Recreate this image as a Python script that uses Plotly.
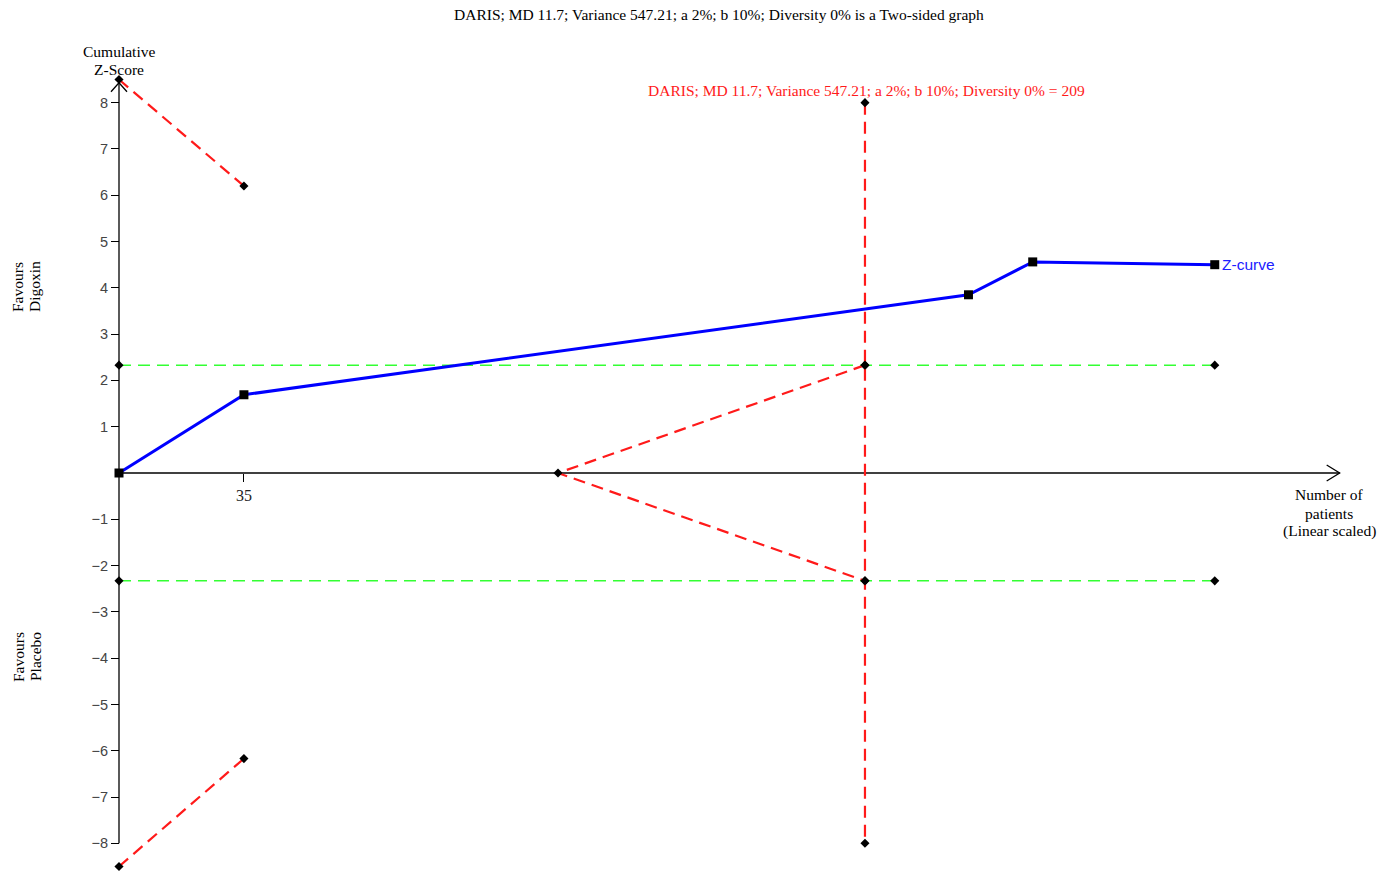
import plotly.graph_objects as go

# ---------------- data ----------------
ris = 209
z_patients = [0, 35, 238, 256, 307]
z_scores = [0.0, 1.69, 3.85, 4.56, 4.50]

upper_b_patients = [0, 35]
upper_b_values = [8.5, 6.2]
lower_b_patients = [0, 35]
lower_b_values = [-8.5, -6.17]

conv_level = 2.33
conv_patients = [0, ris, 307]

futility_start = 123
ris_z_top = 8
ris_z_bottom = -8

y_ticks = [-8, -7, -6, -5, -4, -3, -2, -1, 1, 2, 3, 4, 5, 6, 7, 8]
x_ticks = [35]

title_text = "DARIS; MD 11.7; Variance 547.21; a 2%; b 10%; Diversity 0% is a Two-sided graph"
ris_text = "DARIS; MD 11.7; Variance 547.21; a 2%; b 10%; Diversity 0% = 209"
y_title_lines = ["Cumulative", "Z-Score"]
x_title_lines = ["Number of", "patients", "(Linear scaled)"]
upper_side_lines = ["Favours", "Digoxin"]
lower_side_lines = ["Favours", "Placebo"]

# ---------------- layout constants ----------------
W, H = 1390, 871
x_range = [-33.34, 356.1]
y_range = [-8.598, 10.218]
x_axis_end = 342
y_axis_top = 8.43

SERIF = "Liberation Serif"
SANS = "Liberation Sans"
FS = 15.5

fig = go.Figure()

red = "#ff1a1a"
green = "#33ff33"
DASH = "12px,7px"

def boundary(x, y, color, width):
    fig.add_trace(go.Scatter(x=x, y=y, mode="lines+markers",
                             line=dict(color=color, width=width, dash=DASH),
                             marker=dict(symbol="diamond", size=7, color="black")))

# conventional boundaries
for lvl in (conv_level, -conv_level):
    boundary(conv_patients, [lvl] * len(conv_patients), green, 1.5)

# monitoring boundaries
boundary(upper_b_patients, upper_b_values, red, 2.2)
boundary(lower_b_patients, lower_b_values, red, 2.2)
# RIS vertical
boundary([ris, ris], [ris_z_top, ris_z_bottom], red, 2.2)
# futility wedge
boundary([ris, futility_start, ris], [conv_level, 0, -conv_level], red, 2.2)

# Z-curve
fig.add_trace(go.Scatter(x=z_patients, y=z_scores, mode="lines+markers",
                         line=dict(color="#0000ff", width=3),
                         marker=dict(symbol="square", size=9, color="black")))

shapes = [
    dict(type="line", xref="x", yref="y", x0=0, x1=x_axis_end, y0=0, y1=0,
         line=dict(color="black", width=1.3), layer="below"),
    dict(type="line", xref="x", yref="y", x0=0, x1=0, y0=-8, y1=y_axis_top,
         line=dict(color="black", width=1.3), layer="below"),
    dict(type="path", xref="x", yref="y", xsizemode="pixel", ysizemode="pixel",
         xanchor=x_axis_end, yanchor=0, path="M -13,8 L 0,0 L -13,-8",
         line=dict(color="black", width=1.3)),
    dict(type="path", xref="x", yref="y", xsizemode="pixel", ysizemode="pixel",
         xanchor=0, yanchor=y_axis_top, path="M -8,-9 L 0,0 L 8,-9",
         line=dict(color="black", width=1.3)),
]

def px_text(text, px, py, color="black", family=SERIF, size=FS, angle=0):
    return dict(xref="paper", yref="paper", x=px / W, y=1 - py / H, text=text,
                showarrow=False, xanchor="center", yanchor="middle", textangle=angle,
                font=dict(family=family, size=size, color=color))

annotations = [
    px_text(title_text, 719, 15),
    px_text(ris_text, 866, 91, color=red),
    dict(x=z_patients[-1], y=z_scores[-1], xref="x", yref="y", xshift=5,
         text="Z-curve", showarrow=False, xanchor="left", yanchor="middle",
         font=dict(family=SANS, size=15.5, color="#2020ff")),
]
for i, t in enumerate(y_title_lines):
    annotations.append(px_text(t, 119, 52 + 17 * i))
for i, t in enumerate(x_title_lines):
    annotations.append(px_text(t, 1329, 495 + 18 * i))
for i, t in enumerate(upper_side_lines):
    annotations.append(px_text(t, 18 + 17 * i, 287, angle=-90))
for i, t in enumerate(lower_side_lines):
    annotations.append(px_text(t, 18 + 17 * i, 657, angle=-90))

fig.update_layout(
    width=W, height=H, autosize=False,
    margin=dict(l=0, r=0, t=0, b=0, pad=0),
    paper_bgcolor="white", plot_bgcolor="white",
    showlegend=False,
    shapes=shapes, annotations=annotations,
    xaxis=dict(range=x_range, domain=[0, 1], anchor="free",
               position=(0 - y_range[0]) / (y_range[1] - y_range[0]),
               showgrid=False, zeroline=False, showline=False,
               tickvals=x_ticks, ticks="outside", ticklen=8, tickcolor="black", tickwidth=1.3,
               tickfont=dict(family=SERIF, size=16, color="#222"), fixedrange=True),
    yaxis=dict(range=y_range, domain=[0, 1], anchor="free",
               position=(0 - x_range[0]) / (x_range[1] - x_range[0]),
               showgrid=False, zeroline=False, showline=False,
               tickvals=y_ticks, ticks="outside", ticklen=8, tickcolor="black", tickwidth=1.3,
               tickfont=dict(family=SANS, size=14.5, color="#444"), fixedrange=True),
)

fig.write_html("out.html")
